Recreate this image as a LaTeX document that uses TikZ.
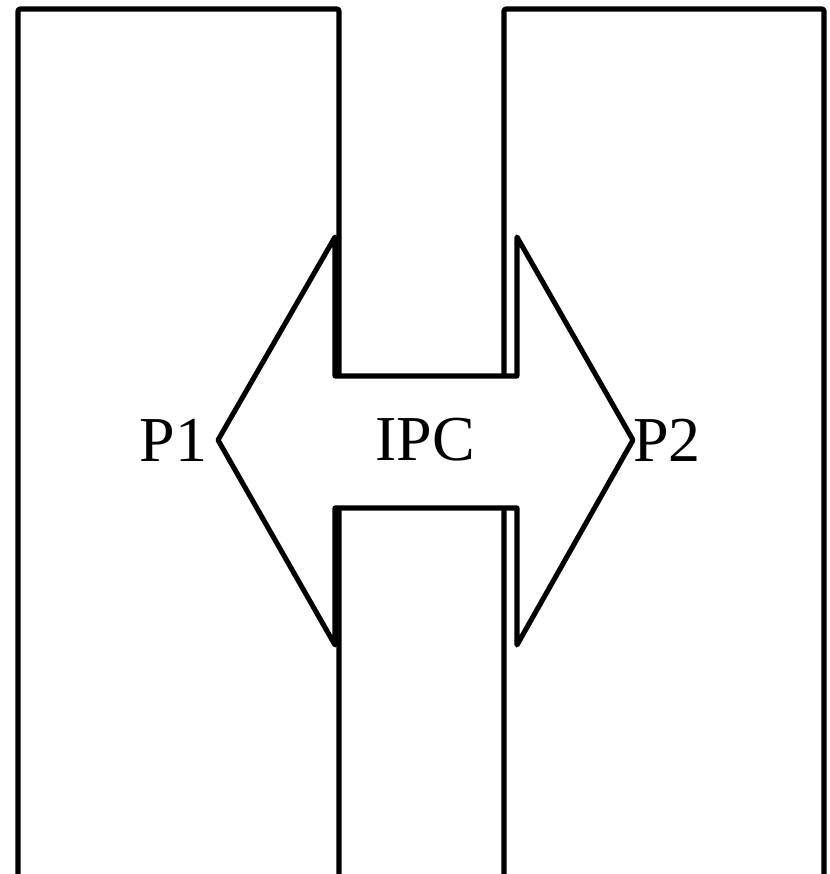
\documentclass[tikz,border=0pt]{standalone}
\usepackage{fontspec}
\setmainfont{Liberation Serif}
\usetikzlibrary{positioning}
\tikzset{
	every node/.style = {font=\fontsize{48}{56}\selectfont, inner sep=0pt},
	proc/.style = {line width=3.8pt, rounded corners=1.5pt},
	chan/.style = {line width=3.8pt, fill=white}
}

\begin{document}
\begin{tikzpicture}[x=0.75pt, y=-0.75pt, line join=round]
		\useasboundingbox (0,0) rectangle (829,874);
		\clip (0,0) rectangle (829,874);
		% left process
		\draw[proc] (18,900) -- (18,9) -- (339,9) -- (339,900);
		% right process
		\draw[proc] (504,900) -- (504,9) -- (824,9) -- (824,900);
		% channel between them
		\coordinate (tipl) at (218,440);
		\coordinate (tipr) at (633,440);
		\filldraw[chan] (tipl) -- (335,237) -- (335,376) -- (517,376) -- (517,237)
		      -- (tipr) -- (517,645) -- (517,508) -- (335,508) -- (335,645) -- cycle;
		\node (ipc) at (425,440) {IPC};
		\node (p1) [left=8pt of tipl] {P1};
		\node (p2) [right=0pt of tipr] {P2};
	\end{tikzpicture}
\end{document}
